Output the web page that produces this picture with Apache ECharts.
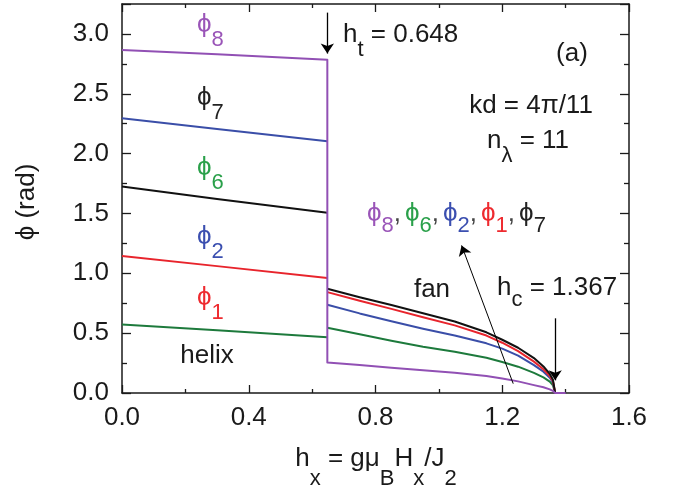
<!DOCTYPE html>
<html>
<head>
<meta charset="utf-8">
<script src="https://cdn.jsdelivr.net/npm/echarts@6/dist/echarts.min.js"></script>
<style>
html,body{margin:0;padding:0;background:#fff;}
#chart{width:678px;height:491px;}
</style>
</head>
<body>
<div id="chart"></div>
<script>
// ---- data ----
const xTickLabels = ['0.0','0.4','0.8','1.2','1.6'];
const yTickLabels = ['0.0','0.5','1.0','1.5','2.0','2.5','3.0'];
const hT = 0.648;
const hC = 1.367;

// helix phase (0 .. hT)
const helixX      = [0, 0.3, 0.648];
const helixPurple = [2.866, 2.830, 2.785];
const helixBlue   = [2.296, 2.205, 2.103];
const helixBlack  = [1.725, 1.620, 1.506];
const helixRed    = [1.144, 1.060, 0.960];
const helixGreen  = [0.573, 0.525, 0.465];

// fan phase (hT .. hC)
const fanX      = [0.648, 0.75,  0.85,  0.95,  1.05,  1.15,  1.2,   1.25,  1.3,   1.33,  1.35,  1.36,  1.367];
const fanBlack  = [0.871, 0.800, 0.735, 0.667, 0.597, 0.507, 0.445, 0.378, 0.292, 0.222, 0.160, 0.110, 0.0];
const fanRed    = [0.843, 0.770, 0.703, 0.633, 0.565, 0.480, 0.420, 0.350, 0.262, 0.198, 0.142, 0.098, 0.0];
const fanBlue   = [0.738, 0.665, 0.600, 0.537, 0.480, 0.415, 0.371, 0.312, 0.233, 0.178, 0.128, 0.088, 0.0];
const fanGreen  = [0.546, 0.490, 0.437, 0.387, 0.345, 0.295, 0.259, 0.220, 0.168, 0.130, 0.095, 0.065, 0.0];
const fanPurple = [0.254, 0.233, 0.211, 0.190, 0.170, 0.142, 0.122, 0.097, 0.066, 0.048, 0.030, 0.018, 0.0];
const afterX      = [1.367, 1.40];
const afterPurple = [0.0, 0.0];

// arrows (data coordinates)
const arrowHt   = [[0.648, 3.178], [0.648, 2.836]];
const arrowHc   = [[1.367, 0.624], [1.367, 0.106]];
const arrowDiag = [[1.2346, 0.078], [1.0717, 1.233]];

// ---- styling ----
const C = {
  purple: '#9150b4', blue: '#3a4ea8', black: '#111111', red: '#e8242c', green: '#1d7a3c',
  purpleT: '#9a55b8', blueT: '#3b4fb0', redT: '#ee2a2f', greenT: '#2aa04a', blackT: '#222222'
};
const FONT = '"Liberation Sans", Arial, "DejaVu Sans", sans-serif';

function zip(xs, ys){ return xs.map((x,i)=>[x, ys[i]]); }

function lineSeries(name, data, color){
  return {
    name, type:'line', data, showSymbol:false, symbol:'none', smooth:false,
    lineStyle:{color, width:2, join:'round'}, animation:false, silent:true, z:3,
    xAxisIndex:0, yAxisIndex:0
  };
}

const series = [
  lineSeries('helixBlue',  zip(helixX, helixBlue),  C.blue),
  lineSeries('helixBlack', zip(helixX, helixBlack), C.black),
  lineSeries('helixRed',   zip(helixX, helixRed),   C.red),
  lineSeries('helixGreen', zip(helixX, helixGreen), C.green),
  lineSeries('fanGreen',   zip(fanX, fanGreen),     C.green),
  lineSeries('fanBlue',    zip(fanX, fanBlue),      C.blue),
  lineSeries('fanRed',     zip(fanX, fanRed),       C.red),
  lineSeries('fanBlack',   zip(fanX, fanBlack),     C.black),
  lineSeries('purple', zip(helixX, helixPurple).concat(zip(fanX, fanPurple)).concat(zip(afterX, afterPurple)), C.purple),
  {
    name:'arrows', type:'line', data:[], animation:false, silent:true,
    markLine:{
      silent:true, animation:false, symbol:['none','arrow'], symbolSize:10,
      label:{show:false},
      lineStyle:{color:'#000', width:1.3, type:'solid'},
      emphasis:{disabled:true},
      data:[
        [{coord:arrowHt[0]},{coord:arrowHt[1]}],
        [{coord:arrowHc[0]},{coord:arrowHc[1]}],
        [{coord:arrowDiag[0], lineStyle:{width:1}},{coord:arrowDiag[1]}]
      ]
    }
  }
];

const axisLineStyle = {lineStyle:{color:'#1a1a1a', width:1.5}};
function xAxisCfg(pos, labels){
  return {
    type:'value', min:0, max:1.6, interval:0.4, position:pos,
    axisLine:Object.assign({show:true, onZero:false}, axisLineStyle),
    axisTick:{show:true, inside:true, length:8, lineStyle:{color:'#1a1a1a', width:1.3}},
    minorTick:{show:true, splitNumber:2, length:4, lineStyle:{color:'#1a1a1a', width:1.3}},
    splitLine:{show:false}, minorSplitLine:{show:false},
    axisLabel:{show:labels, fontSize:26, fontFamily:FONT, color:'#1a1a1a', margin:12,
      formatter:(v)=>{ const s=v.toFixed(1); return xTickLabels.indexOf(s)>=0 ? s : ''; }}
  };
}
function yAxisCfg(pos, labels){
  return {
    type:'value', min:0, max:3.25, interval:0.5, position:pos,
    axisLine:Object.assign({show:true, onZero:false}, axisLineStyle),
    axisTick:{show:true, inside:true, length:9, lineStyle:{color:'#1a1a1a', width:1.3}},
    minorTick:{show:true, splitNumber:2, length:5, lineStyle:{color:'#1a1a1a', width:1.3}},
    splitLine:{show:false}, minorSplitLine:{show:false},
    axisLabel:{show:labels, fontSize:26, fontFamily:FONT, color:'#1a1a1a', margin:13, showMaxLabel:false,
      formatter:(v)=>{ const s=v.toFixed(1); return yTickLabels.indexOf(s)>=0 ? s : ''; }}
  };
}

// rich text helpers
function tok(color, size, pad, padRight){
  const t = {fill:color, fontSize:size, fontFamily:FONT, verticalAlign:'top'};
  if (pad || padRight) t.padding = [pad||0, padRight||0, 0, 0];
  return t;
}
function phiLabel(x, y, sub, color){
  return {
    type:'text', x, y, silent:true, z:10,
    style:{
      text:'{m|ϕ}{s|'+sub+'}', verticalAlign:'top', align:'left',
      rich:{ m:tok(color,26), s:tok(color,22,17) }
    }
  };
}
function plainText(x, y, text, align, color){
  return {type:'text', x, y, silent:true, z:10,
    style:{text, fill:color||'#1a1a1a', fontSize:26, fontFamily:FONT, align:align||'left', verticalAlign:'top'}};
}

const graphics = [
  phiLabel(197, 12, '8', C.purpleT),
  phiLabel(197, 85, '7', C.blackT),
  phiLabel(197, 155, '6', C.greenT),
  phiLabel(197, 224, '2', C.blueT),
  phiLabel(197, 285, '1', C.redT),
  plainText(207, 343, 'helix', 'center'),
  plainText(572, 41, '(a)', 'center'),
  plainText(531, 93, 'kd = 4π/11', 'center'),
  plainText(432, 277, 'fan', 'center'),
  {type:'text', x:343, y:22, silent:true, z:10,
   style:{text:'{m|h}{s|t}{m| = 0.648}', verticalAlign:'top', align:'left',
     rich:{m:tok('#1a1a1a',26), s:tok('#1a1a1a',22,17)}}},
  {type:'text', x:487, y:128, silent:true, z:10,
   style:{text:'{m|n}{s|λ}{m| = 11}', verticalAlign:'top', align:'left',
     rich:{m:tok('#1a1a1a',26), s:tok('#1a1a1a',22,17)}}},
  {type:'text', x:497, y:275, silent:true, z:10,
   style:{text:'{m|h}{s|c}{m| = 1.367}', verticalAlign:'top', align:'left',
     rich:{m:tok('#1a1a1a',26), s:tok('#1a1a1a',22,14)}}},
  {type:'text', x:367, y:201, silent:true, z:10,
   style:{text:'{p|ϕ}{ps|8}{k|,}{g|ϕ}{gs|6}{k|,}{b|ϕ}{bs|2}{k|,}{r|ϕ}{rs|1}{k|,}{kk|ϕ}{ks|7}',
     verticalAlign:'top', align:'left',
     rich:{
       p:tok(C.purpleT,26), ps:tok(C.purpleT,22,14),
       g:tok(C.greenT,26),  gs:tok(C.greenT,22,14),
       b:tok(C.blueT,26),   bs:tok(C.blueT,22,14),
       r:tok(C.redT,26),    rs:tok(C.redT,22,14),
       kk:tok(C.blackT,26), ks:tok(C.blackT,22,14),
       k:tok('#444',26,0,4)
     }}},
  // x axis title
  {type:'text', x:376, y:446, silent:true, z:10,
   style:{text:'{m|h}{s|x}{m| = gμ}{s|B}{m|H}{s|x}{m|/J}{s|2}', verticalAlign:'top', align:'center',
     rich:{m:tok('#1a1a1a',26), s:tok('#1a1a1a',22,22)}}},
  // y axis title
  {type:'text', x:27, y:202, rotation:Math.PI/2, silent:true, z:10,
   style:{text:'ϕ (rad)', fill:'#1a1a1a', fontSize:26, fontFamily:FONT, align:'center', verticalAlign:'middle'}}
];

const chart = echarts.init(document.getElementById('chart'), null, {renderer:'canvas'});
chart.setOption({
  animation:false,
  backgroundColor:'#ffffff',
  grid:{left:122, right:49, top:4, bottom:98, containLabel:false},
  xAxis:[xAxisCfg('bottom', true), xAxisCfg('top', false)],
  yAxis:[yAxisCfg('left', true), yAxisCfg('right', false)],
  series,
  graphic:graphics
});
</script>
</body>
</html>
